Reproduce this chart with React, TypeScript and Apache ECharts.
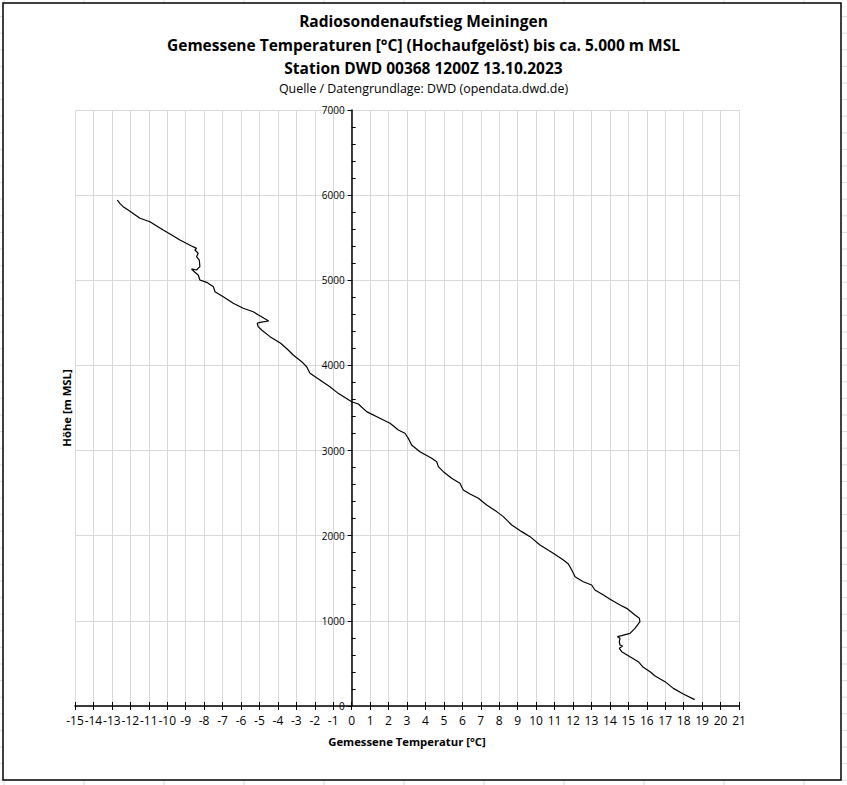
import React, { useEffect, useRef } from "react";
import * as echarts from "echarts";

const heights = [
  75, 141, 207, 286, 352, 403, 454, 521, 579, 638, 677, 705, 716, 755, 795, 814, 826, 853, 912, 990,
  1030, 1069, 1147, 1186, 1253, 1304, 1362, 1421, 1460, 1519, 1558, 1597, 1668, 1715, 1793, 1891,
  1989, 2048, 2126, 2224, 2283, 2361, 2439, 2490, 2537, 2616, 2674, 2752, 2811, 2869, 2909, 2987,
  3066, 3144, 3203, 3242, 3320, 3379, 3457, 3547, 3574, 3614, 3672, 3750, 3829, 3907, 3985, 4044,
  4123, 4181, 4260, 4338, 4416, 4455, 4495, 4506, 4522, 4554, 4593, 4631, 4671, 4730, 4807, 4866,
  4925, 4976, 5004, 5062, 5094, 5133, 5121, 5160, 5238, 5277, 5317, 5356, 5375, 5403, 5473, 5532,
  5591, 5688, 5728, 5826, 5865, 5904, 5943,
];
const temperatures = [
  18.6, 17.98, 17.44, 16.99, 16.45, 16.18, 15.81, 15.54, 15.09, 14.64, 14.51, 14.69, 14.55, 14.51,
  14.55, 14.41, 14.64, 15.09, 15.36, 15.63, 15.6, 15.36, 14.91, 14.55, 14.01, 13.65, 13.19, 13.01,
  12.56, 12.11, 12.02, 11.93, 11.75, 11.48, 10.93, 10.21, 9.67, 9.22, 8.68, 8.22, 7.86, 7.32, 6.87,
  6.42, 6.05, 5.87, 5.42, 4.97, 4.7, 4.61, 4.34, 3.7, 3.25, 3.07, 2.89, 2.53, 2.08, 1.53, 0.81, 0.36,
  0.0, -0.3, -0.73, -1.18, -1.72, -2.26, -2.44, -2.71, -3.17, -3.44, -3.85, -4.43, -4.88, -5.07,
  -5.12, -4.97, -4.5, -4.75, -5.05, -5.34, -5.88, -6.42, -6.96, -7.41, -7.5, -7.86, -8.23, -8.32,
  -8.5, -8.68, -8.41, -8.23, -8.26, -8.41, -8.32, -8.5, -8.41, -8.68, -9.31, -9.76, -10.22, -10.94,
  -11.48, -12.12, -12.39, -12.57, -12.71,
];

const titleLines = [
  "Radiosondenaufstieg Meiningen",
  "Gemessene Temperaturen [°C] (Hochaufgelöst) bis ca. 5.000 m MSL",
  "Station DWD 00368 1200Z 13.10.2023",
];
const sourceLine = "Quelle / Datengrundlage: DWD (opendata.dwd.de)";
const xAxisName = "Gemessene Temperatur [°C]";
const yAxisName = "Höhe [m MSL]";

const X_MIN = -15;
const X_MAX = 21;
const Y_MIN = 0;
const Y_MAX = 7000;

const GRID_LEFT = 75;
const GRID_RIGHT = 108;
const GRID_TOP = 110;
const GRID_BOTTOM = 79;
const CHART_W = 847;
const CHART_H = 785;

const FONT = "'Open Sans', 'Noto Sans', sans-serif";

export default function App() {
  const ref = useRef<HTMLDivElement>(null);

  useEffect(() => {
    if (!ref.current) return;
    const chart = echarts.init(ref.current, undefined, { renderer: "svg" });

    const gridWidth = CHART_W - GRID_LEFT - GRID_RIGHT;
    const zeroOffset = (gridWidth * (0 - X_MIN)) / (X_MAX - X_MIN);

    const cellLines: any[] = [];
    const cellColor = "#dadada";
    for (let x = 4; x < CHART_W; x += 80) {
      cellLines.push({ type: "line", shape: { x1: x, y1: 0, x2: x, y2: 3 }, style: { stroke: cellColor, lineWidth: 1 }, silent: true });
      cellLines.push({ type: "line", shape: { x1: x, y1: 781, x2: x, y2: 785 }, style: { stroke: cellColor, lineWidth: 1 }, silent: true });
    }
    for (let y = 16.6; y < CHART_H; y += 16.6) {
      cellLines.push({ type: "line", shape: { x1: 0, y1: y, x2: 2.5, y2: y }, style: { stroke: cellColor, lineWidth: 1 }, silent: true });
      cellLines.push({ type: "line", shape: { x1: 842, y1: y, x2: 847, y2: y }, style: { stroke: cellColor, lineWidth: 1 }, silent: true });
    }

    const titleStyle = { fontFamily: FONT, fontSize: 15.5, fontWeight: "bold", color: "#000" };

    const option: any = {
      animation: false,
      backgroundColor: "#ffffff",
      textStyle: { fontFamily: FONT },
      title: [
        { text: titleLines[0], left: "center", top: 13, padding: 0, textStyle: titleStyle },
        { text: titleLines[1], left: "center", top: 37, padding: 0, textStyle: titleStyle },
        { text: titleLines[2], left: "center", top: 60, padding: 0, textStyle: titleStyle },
        { text: sourceLine, left: "center", top: 82, padding: 0, textStyle: { fontFamily: FONT, fontSize: 12.4, fontWeight: "normal", color: "#000" } },
      ],
      grid: { left: GRID_LEFT, right: GRID_RIGHT, top: GRID_TOP, bottom: GRID_BOTTOM, containLabel: false, outerBoundsMode: "none" },
      xAxis: [
        {
          type: "value",
          min: X_MIN,
          max: X_MAX,
          interval: 1,
          position: "bottom",
          axisLine: { show: true, onZero: true, lineStyle: { color: "#000", width: 1.5 } },
          axisTick: { show: true, length: 4, lineStyle: { color: "#000", width: 1 } },
          axisLabel: { show: true, color: "#000", fontSize: 12, margin: 8, fontFamily: FONT },
          splitLine: { show: true, lineStyle: { color: "#d9d9d9", width: 1 } },
          name: xAxisName,
          nameLocation: "middle",
          nameGap: 30,
          nameTextStyle: { color: "#000", fontSize: 11.3, fontWeight: "bold", fontFamily: FONT },
        },
        {
          type: "value",
          min: X_MIN,
          max: X_MAX,
          interval: 1,
          position: "bottom",
          axisLine: { show: false, onZero: false },
          axisTick: { show: true, inside: true, length: 4, lineStyle: { color: "#000", width: 1 } },
          axisLabel: { show: false },
          splitLine: { show: false },
        },
      ],
      yAxis: [
        {
          type: "value",
          min: Y_MIN,
          max: Y_MAX,
          interval: 1000,
          axisLine: { show: true, onZero: true, lineStyle: { color: "#000", width: 1.5 } },
          axisTick: { show: true, length: 4, lineStyle: { color: "#000", width: 1 } },
          minorTick: { show: true, splitNumber: 5, length: -4, lineStyle: { color: "#000", width: 1 } },
          axisLabel: { show: false },
          splitLine: { show: true, lineStyle: { color: "#d9d9d9", width: 1 } },
          minorSplitLine: { show: false },
        },
        {
          type: "value",
          min: Y_MIN,
          max: Y_MAX,
          interval: 1000,
          position: "left",
          offset: -zeroOffset,
          axisLine: { show: false, onZero: false },
          axisTick: { show: false },
          axisLabel: {
            show: true,
            color: "#000",
            fontSize: 10,
            margin: 7,
            fontFamily: FONT,
            formatter: (v: number) => String(v),
          },
          splitLine: { show: false },
        },
      ],
      graphic: [
        ...cellLines,
        {
          type: "rect",
          shape: { x: 3, y: 3, width: 838, height: 777 },
          style: { fill: "none", stroke: "#000", lineWidth: 1.5 },
          silent: true,
          z: 100,
        },
        {
          type: "text",
          x: 66,
          y: 408,
          rotation: Math.PI / 2,
          style: {
            text: yAxisName,
            fontFamily: FONT,
            fontSize: 11.3,
            fontWeight: "bold",
            fill: "#000",
            align: "center",
            verticalAlign: "middle",
          },
          silent: true,
        },
      ],
      series: [
        {
          type: "line",
          xAxisIndex: 0,
          yAxisIndex: 0,
          data: heights.map((h, i) => [temperatures[i], h]),
          showSymbol: false,
          symbol: "none",
          lineStyle: { color: "#000", width: 1.2 },
          clip: true,
        },
      ],
    };

    chart.setOption(option);
    return () => chart.dispose();
  }, []);

  return <div ref={ref} style={{ position: "absolute", left: 0, top: 0, width: CHART_W, height: CHART_H }} />;
}
